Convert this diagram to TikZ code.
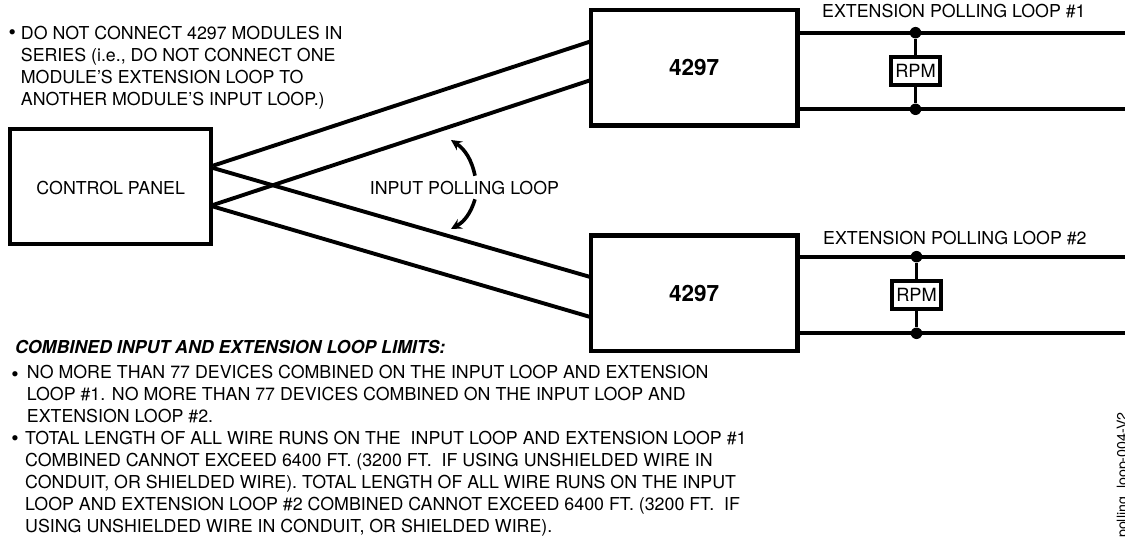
\documentclass[tikz,border=0pt]{standalone}
\usepackage{fontspec}
\setmainfont{TeX Gyre Heros}
\tikzset{node distance=38.3pt, x=1pt, y=-1pt}
\tikzset{
  box/.style={draw, line width=4.4pt, inner sep=0pt},
  wire/.style={line width=3.9pt},
  swoop/.style={line width=3.6pt, -stealth},
  dot/.style={circle, fill, inner sep=0pt, minimum size=11.5pt},
  lbl/.style={inner sep=0pt, anchor=base west, font=\fontsize{17.8}{22}\selectfont},
  note/.style={lbl, align=left},
  mark1/.style={inner sep=0pt, anchor=base, font=\fontsize{21}{22}\selectfont},
  rpmbox/.style={box, minimum width=48.5pt, minimum height=28.3pt, font=\fontsize{18.2}{20}\selectfont},
}
\begin{document}
\begin{tikzpicture}
   \useasboundingbox (0,0) rectangle (1125,537);
   \node(panel) [box, minimum width=201pt, minimum height=115pt, text height=17pt, text depth=0pt, font=\fontsize{17.8}{22}\selectfont] at (110.7,186.5) {CONTROL PANEL};
   \node(mod1) [box, minimum width=206.3pt, minimum height=115.2pt, text height=16.2pt, text depth=0pt, font=\fontsize{22.5}{24}\bfseries] at (694.2,67.9) {4297};
   \node(mod2) [box, minimum width=206.3pt, minimum height=115.5pt, text height=16.8pt, text depth=0pt, font=\fontsize{22.5}{24}\bfseries] at (694.2,293.2) {4297};
   \node(j1) [dot] at (915.5,32.7) {};
   \node(rpm1) [rpmbox, below of=j1] {RPM};
   \node(k1) [dot, below of=rpm1] {};
   \node(j2) [dot] at (916.5,256.7) {};
   \node(rpm2) [rpmbox, below of=j2] {RPM};
   \node(k2) [dot, below of=rpm2] {};
   \coordinate(p1) at (213,165.7);
   \coordinate(p2) at (213,205);
   \coordinate(p3) at (213,168);
   \coordinate(p4) at (213,206.5);
   \coordinate(m1) at (591,41.3);
   \coordinate(m2) at (591,80);
   \coordinate(m3) at (591,277.2);
   \coordinate(m4) at (591,317.2);
   \draw[wire] (p1) -- (m1);
   \draw[wire] (p2) -- (m2);
   \draw[wire] (p3) -- (m3);
   \draw[wire] (p4) -- (m4);
   \coordinate(e1) at (1125,32.7);
   \coordinate(f1) at (1125,109.3);
   \coordinate(e2) at (1125,256.7);
   \coordinate(f2) at (1125,332.7);
   \draw[wire] (mod1.east |- e1) -- (e1);
   \draw[wire] (mod1.east |- f1) -- (f1);
   \draw[wire] (mod2.east |- e2) -- (e2);
   \draw[wire] (mod2.east |- f2) -- (f2);
   \draw[wire] (j1) -- (rpm1);
   \draw[wire] (rpm1) -- (k1);
   \draw[wire] (j2) -- (rpm2);
   \draw[wire] (rpm2) -- (k2);
   \node(input) [lbl] at (369.6,195) {INPUT POLLING LOOP};
   \coordinate(a1) at (475,175.7);
   \coordinate(a2) at (451,140);
   \coordinate(b1) at (475,199.3);
   \coordinate(b2) at (451,229);
   \draw[swoop] (a1) to [bend right=22] (a2);
   \draw[swoop] (b1) to [bend left=22] (b2);
   \node(ext1) [lbl] at (822,17.7) {EXTENSION POLLING LOOP \#1};
   \node(ext2) [lbl] at (823,244.3) {EXTENSION POLLING LOOP \#2};
   \node(dot1) [mark1] at (12.3,39.5) {\textbullet};
   \node(warn) [note, anchor=north west] at (20.7,26) {DO NOT CONNECT 4297 MODULES IN\\SERIES (i.e., DO NOT CONNECT ONE\\MODULE'S EXTENSION LOOP TO\\ANOTHER MODULE'S INPUT LOOP.)};
   \node(head) [lbl, font=\fontsize{17.8}{22}\bfseries\itshape] at (15,353.3) {COMBINED INPUT AND EXTENSION LOOP LIMITS:};
   \node(dot2) [mark1] at (15,381.1) {\textbullet};
   \node(lim1) [note, anchor=north west] at (26.7,365) {NO MORE THAN 77 DEVICES COMBINED ON THE INPUT LOOP AND EXTENSION\\LOOP \#1. NO MORE THAN 77 DEVICES COMBINED ON THE INPUT LOOP AND\\EXTENSION LOOP \#2.};
   \node(dot3) [mark1] at (15,445.1) {\textbullet};
   \node(lim2) [note, anchor=north west] at (25,431) {TOTAL LENGTH OF ALL WIRE RUNS ON THE \ INPUT LOOP AND EXTENSION LOOP \#1\\COMBINED CANNOT EXCEED 6400 FT. (3200 FT. \ IF USING UNSHIELDED WIRE IN\\CONDUIT, OR SHIELDED WIRE). TOTAL LENGTH OF ALL WIRE RUNS ON THE INPUT\\LOOP AND EXTENSION LOOP \#2 COMBINED CANNOT EXCEED 6400 FT. (3200 FT. \ IF\\USING UNSHIELDED WIRE IN CONDUIT, OR SHIELDED WIRE).};
   \node(tag) [inner sep=0pt, anchor=base east, rotate=90, font=\fontsize{14.2}{16}\selectfont] at (1127,412) {polling\_loop-004-V2};
\end{tikzpicture}
\end{document}
